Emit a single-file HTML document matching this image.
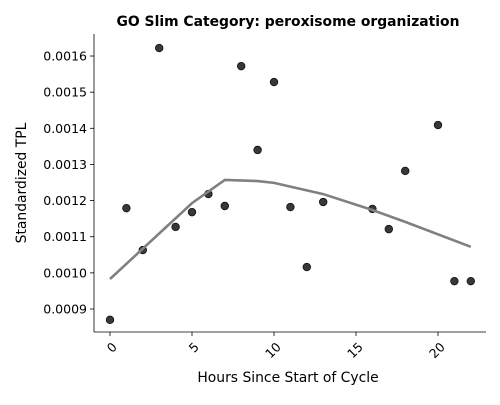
<!DOCTYPE html>
<html><head><meta charset="utf-8"><style>
body{margin:0;background:#fff;}
svg text{font-family:"DejaVu Sans","Liberation Sans",sans-serif;}
</style></head><body>
<svg id="chart" width="500" height="400">
<text x="288" y="26" text-anchor="middle" font-size="13.9" font-weight="bold">GO Slim Category: peroxisome organization</text>
<text x="0" y="0" transform="translate(26,183) rotate(-90)" text-anchor="middle" font-size="13.9">Standardized TPL</text>
<text x="288" y="382" text-anchor="middle" font-size="13.9">Hours Since Start of Cycle</text>
<g id="ticks"></g>
<g id="marks"></g>
<line x1="94" y1="34" x2="94" y2="332" stroke="#000" stroke-width="0.8"/>
<line x1="94" y1="332" x2="486" y2="332" stroke="#000" stroke-width="0.8"/>
</svg>
<script>
const hours=[0,1,2,3,4,5,6,7,8,9,10,11,12,13,16,17,18,20,21,22];
const tpl=[0.00087,0.001179,0.001063,0.001622,0.001127,0.001168,0.001218,0.001185,0.001572,0.00134,0.001528,0.001182,0.001016,0.001196,0.001177,0.001121,0.001282,0.001409,0.000977,0.000977];
const trendX=[0,5,7,9,10,13,16,18,22];
const trendY=[0.000983,0.001193,0.001257,0.001254,0.001249,0.001218,0.001174,0.001141,0.001072];
const xTicks=[0,5,10,15,20];
const yTicks=[0.0009,0.0010,0.0011,0.0012,0.0013,0.0014,0.0015,0.0016];
const NS="http://www.w3.org/2000/svg";
const xs=h=>110+h*16.4;
const ys=v=>309-(v-0.0009)/0.0001*36.14;
const tk=document.getElementById('ticks'),mk=document.getElementById('marks');
function el(t,a,p){const e=document.createElementNS(NS,t);for(const k in a)e.setAttribute(k,a[k]);p.appendChild(e);return e;}
xTicks.forEach(t=>{
 const x=xs(t);
 const l=el('line',{x1:x,y1:332,x2:x,y2:336,stroke:'#000','stroke-width':0.8},tk);
 
 
 const tx=el('text',{x:0,y:0,transform:`translate(${x+1},${341}) rotate(-45)`,'text-anchor':'end','dominant-baseline':'hanging','font-size':12.5},tk);
 tx.textContent=t;
 
 
});
yTicks.forEach(t=>{
 const y=ys(t);
 const l=el('line',{x1:90,y1:y,x2:94,y2:y,stroke:'#000','stroke-width':0.8},tk);
 
 
 const tx=el('text',{x:87,y:y+4.5,'text-anchor':'end','font-size':12.5},tk);
 tx.textContent=t.toFixed(4);
 
 
});
hours.forEach((h,i)=>{
 const c=el('circle',{cx:xs(h),cy:ys(tpl[i]),r:3.8,fill:'#222','fill-opacity':0.9,stroke:'#111','stroke-width':0.8},mk);
 
 
});
const p=el('polyline',{points:trendX.map((h,i)=>xs(h)+','+ys(trendY[i])).join(' '),fill:'none',stroke:'#808080','stroke-width':2.6},mk);


</script>
</body></html>
